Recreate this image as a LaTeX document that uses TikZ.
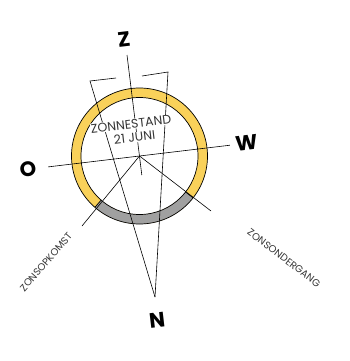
\documentclass[tikz,border=0pt]{standalone}
\usepackage{fontspec}
\setmainfont{Poppins}
\usetikzlibrary{calc}
\definecolor{ringyellow}{HTML}{F9D15A}
\definecolor{ringgray}{HTML}{A0A0A0}
\definecolor{txtgray}{HTML}{353535}
\tikzset{
  thinline/.style={draw=black, line width=0.6pt},
  cardinal/.style={font=\fontsize{21}{21}\selectfont\bfseries, inner sep=0pt, rotate=6.7},
  sunlabel/.style={font=\fontsize{12.5}{12.5}\selectfont, text=txtgray, fill=white, inner sep=0.6pt, rotate=6.7},
  smalllabel/.style={font=\fontsize{10}{10}\selectfont, text=txtgray, inner sep=0pt},
}
\begin{document}
\begin{tikzpicture}[x=1pt,y=1pt]
\useasboundingbox (0,0) rectangle (350,-361);
\coordinate (c) at (139.5,-156);
% ring
\fill[ringyellow, even odd rule] (c) circle (68) (c) circle (58.5);
\fill[ringgray] ($(c)+(229:68)$) arc (229:322:68) -- ($(c)+(322:58.5)$) arc (322:229:58.5) -- cycle;
\draw[line width=0.7pt] (c) circle (68);
\draw[line width=0.7pt] (c) circle (58.5);
\draw[line width=0.7pt] ($(c)+(229:68)$) -- ($(c)+(229:58.5)$);
\draw[line width=0.7pt] ($(c)+(322:68)$) -- ($(c)+(322:58.5)$);
% coordinates
\coordinate (ewO) at ($(c)+(186.8:92)$);
\coordinate (ewW) at ($(c)+(6.8:91)$);
\coordinate (rise) at (82,-226);
\coordinate (set) at (211,-211);
\coordinate (ztop) at (127,-55);
\coordinate (tick) at (141.8,-175);
\coordinate (np) at (155,-297);
\coordinate (lb1) at (116,-78);
\coordinate (lb2) at (90,-81);
\coordinate (rb1) at (142,-76);
\coordinate (rb2) at (168,-72);
% lines
\draw[thinline] (ewO) -- (ewW);
\draw[thinline] (c) -- (rise);
\draw[thinline] (c) -- (set);
\draw[thinline] (ztop) -- (tick);
\draw[thinline] (lb1) -- (lb2) -- (np);
\draw[thinline] (rb1) -- (rb2) -- (np);
% texts
\node[sunlabel] (zs) at (131,-124) {ZONNESTAND};
\node[sunlabel] (jun) at (134.5,-137.5) {21 JUNI};
\node[cardinal] (Z) at (124,-39) {Z};
\node[cardinal] (W) at (246.5,-142.5) {W};
\node[cardinal] (O) at (28,-169.5) {O};
\node[cardinal] (N) at (157,-320) {N};
\node[smalllabel, rotate=49] (sr) at (46,-262) {ZONSOPKOMST};
\node[smalllabel, rotate=-37.5] (ss) at (284,-258) {ZONSONDERGANG};
\end{tikzpicture}
\end{document}
